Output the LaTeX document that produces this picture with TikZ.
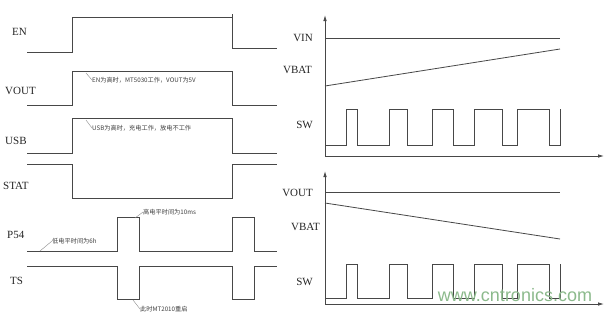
\documentclass[tikz,border=0pt]{standalone}
\usepackage{fontspec}
\setmainfont{Liberation Serif}
\newfontfamily\cjk{Noto Sans CJK SC}
\newfontfamily\wmfont{Liberation Sans}
\usetikzlibrary{arrows.meta}
\begin{document}
\begin{tikzpicture}[x=1bp,y=-1bp,
  wave/.style={draw=black!72,line width=0.8bp},
  axis/.style={draw=black!72,line width=0.8bp,-{Latex[length=6bp,width=3.5bp]}},
  sig/.style={font=\fontsize{11bp}{12bp}\selectfont,text=black!85,inner sep=0pt},
  note/.style={font=\cjk\fontsize{6.2bp}{6.5bp}\selectfont,text=black!75,inner sep=0pt,anchor=west},
  lead/.style={draw=black!45,line width=0.4bp}]
\useasboundingbox (0,0) rectangle (612,321);
\fill[white] (0,0) rectangle (612,321);

% ---- left column labels
\node[sig,anchor=west] (lEN) at (12,32) {EN};
\node[sig,anchor=west] (lVOUT) at (5,91) {VOUT};
\node[sig,anchor=west] (lUSB) at (5,141) {USB};
\node[sig,anchor=west] (lSTAT) at (3,186) {STAT};
\node[sig,anchor=west] (lP54) at (7,235) {P54};
\node[sig,anchor=west] (lTS) at (10,281) {TS};

% ---- left waveforms
\draw[wave] (27,52) -- (72,52) -- (72,17) -- (232,17) -- (232,48) -- (277,48);
\draw[wave] (232,14) -- (232,17);
\draw[wave] (27,105) -- (72,105) -- (72,71) -- (232,71) -- (232,105) -- (277,105);
\draw[wave] (27,153) -- (72,153) -- (72,118) -- (232,118) -- (232,153) -- (277,153);
\draw[wave] (27,164) -- (72,164) -- (72,198) -- (232,198) -- (232,164) -- (277,164);
\draw[wave] (27,251) -- (117,251) -- (117,217) -- (139,217) -- (139,251) -- (232,251)
  -- (232,217) -- (254,217) -- (254,251) -- (277,251);
\draw[wave] (27,266) -- (117,266) -- (117,299) -- (139,299) -- (139,266) -- (232,266)
  -- (232,299) -- (254,299) -- (254,266) -- (277,266);

% ---- annotations
\coordinate (a1) at (86,73);
\node[note] (n1) at (92,80) {EN为高时，MT5030工作，VOUT为5V};
\draw[lead] (a1) -- (n1.west);
\coordinate (a2) at (86,120);
\node[note] (n2) at (92,128) {USB为高时，充电工作，放电不工作};
\draw[lead] (a2) -- (n2.west);
\coordinate (a3) at (40,251);
\node[note] (n3) at (52,241) {低电平时间为6h};
\draw[lead] (a3) -- (n3.west);
\coordinate (a4) at (135,218);
\node[note] (n4) at (143,212) {高电平时间为10ms};
\draw[lead] (a4) -- (n4.west);
\coordinate (a5) at (133,300);
\node[note] (n5) at (140,309) {此时MT2010重启};
\draw[lead] (a5) -- (n5.west);

% ---- right top panel
\coordinate (o1) at (325,156);
\coordinate (y1) at (325,15);
\coordinate (x1) at (604,156);
\draw[axis] (o1) -- (y1);
\draw[axis] (o1) -- (x1);
\node[sig,anchor=east] (rVIN) at (313,38) {VIN};
\node[sig,anchor=east] (rVBAT1) at (312,70) {VBAT};
\node[sig,anchor=east] (rSW1) at (313,125) {SW};
\draw[wave] (325,38) -- (560,38);
\draw[wave] (325,86) -- (560,49);
\draw[wave] (325,145) -- (346,145) -- (346,109) -- (357,109) -- (357,145) -- (389,145)
  -- (389,109) -- (407,109) -- (407,145) -- (432,145) -- (432,109) -- (453,109)
  -- (453,145) -- (474,145) -- (474,109) -- (502,109) -- (502,145) -- (517,145)
  -- (517,109) -- (549,109) -- (549,145) -- (560,145) -- (560,109);

% ---- right bottom panel
\coordinate (o2) at (325,304);
\coordinate (y2) at (325,171);
\coordinate (x2) at (604,304);
\draw[axis] (o2) -- (y2);
\draw[axis] (o2) -- (x2);
\node[sig,anchor=east] (rVOUT) at (313,193) {VOUT};
\node[sig,anchor=east] (rVBAT2) at (320,227) {VBAT};
\node[sig,anchor=east] (rSW2) at (313,282) {SW};
\draw[wave] (325,192) -- (560,192);
\draw[wave] (325,203) -- (560,239);
\draw[wave] (325,298) -- (346,298) -- (346,264) -- (357,264) -- (357,298) -- (389,298)
  -- (389,264) -- (407,264) -- (407,298) -- (432,298) -- (432,264) -- (453,264)
  -- (453,298) -- (474,298) -- (474,264) -- (502,264) -- (502,298) -- (517,298)
  -- (517,264) -- (549,264) -- (549,298) -- (560,298) -- (560,264);

% ---- watermark
\node[font=\wmfont\fontsize{18bp}{19bp}\selectfont,text=green!40!black!45,inner sep=0pt] (wm) at (515,295) {www.cntronics.com};
\end{tikzpicture}
\end{document}
